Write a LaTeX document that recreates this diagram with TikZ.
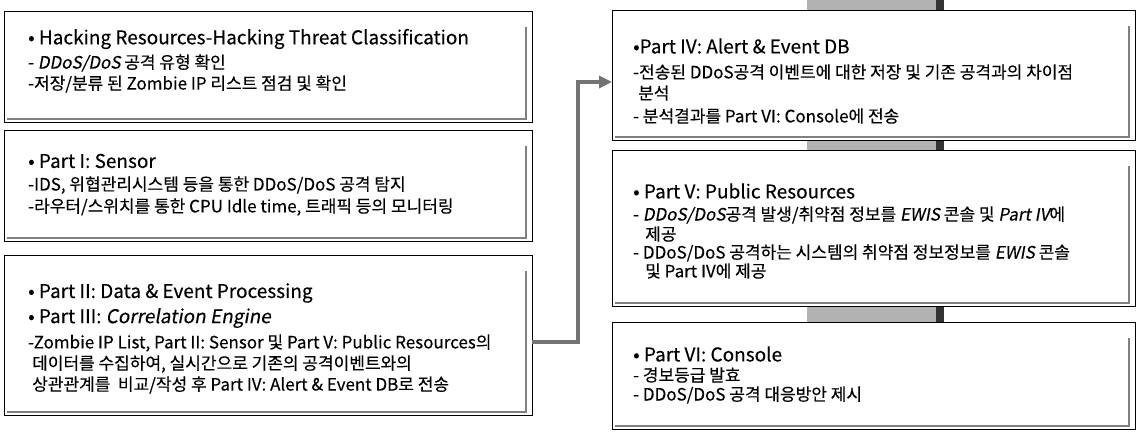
\documentclass[tikz,border=0pt]{standalone}
\usepackage{fontspec}
\setmainfont{Noto Sans CJK KR}[AutoFakeSlant=0.18,FakeBold=0.25]
\usetikzlibrary{arrows.meta}
\tikzset{
  panel/.style={draw=black, line width=0.9pt, fill=white, anchor=north west, outer sep=0pt, inner sep=0pt},
  shad/.style={draw=black!50, line width=1.6pt},
  tl/.style={anchor=west, inner sep=0pt, font=\fontsize{19}{21}\selectfont},
  bl/.style={anchor=west, inner sep=0pt, font=\fontsize{17}{19}\selectfont},
  bar/.style={fill=black!30, draw=none},
  barend/.style={fill=black!80, draw=none},
  conn/.style={draw=black!55, line width=4pt, -{Triangle[length=13pt,width=12pt]}},
}
\begin{document}
\begin{tikzpicture}[x=1pt,y=-1pt]
\useasboundingbox (0,0) rectangle (1144,436);
\fill[white] (0,0) rectangle (1144,436);

% gray flow bars between right panels
\fill[bar] (807,0) rectangle (944,11);
\fill[barend] (936,0) rectangle (944,11);
\fill[bar] (807,139) rectangle (944,151);
\fill[barend] (936,139) rectangle (944,151);
\fill[bar] (807,305) rectangle (944,323);
\fill[barend] (936,305) rectangle (944,323);

% panels
\node[panel, minimum width=528pt, minimum height=111pt] (b1) at (4,11) {};
\node[panel, minimum width=528pt, minimum height=111pt] (b2) at (4,130) {};
\node[panel, minimum width=528pt, minimum height=160pt] (b3) at (4,255) {};
\node[panel, minimum width=523pt, minimum height=130pt] (b4) at (612,10) {};
\node[panel, minimum width=523pt, minimum height=156pt] (b5) at (612,150) {};
\node[panel, minimum width=523pt, minimum height=107pt] (b6) at (612,322) {};

\foreach \b in {b1,b2,b3,b4,b5,b6}{
  \draw[shad] ([xshift=-6pt,yshift=-16pt]\b.north east) -- ([xshift=-6pt,yshift=3pt]\b.south east)
              -- ([xshift=3pt,yshift=3pt]\b.south west);
}

% connector
\coordinate (c1) at (578,342);
\coordinate (c2) at (578,82);
\draw[conn] (b3.east |- c1) -- (c1) -- (c2) -- (b4.west |- c2);

% box 1
\node[tl] (t1) at (28,39) {• Hacking Resources-Hacking Threat Classification};
\node[bl] (t1a) at (28,63) {- \textit{DDoS/DoS} 공격 유형 확인};
\node[bl] (t1b) at (28,84) {-저장/분류 된 Zombie IP 리스트 점검 및 확인};

% box 2
\node[tl] (t2) at (28,161) {• Part I: Sensor};
\node[bl] (t2a) at (28,185) {-IDS, 위협관리시스템 등을 통한 DDoS/DoS 공격 탐지};
\node[bl] (t2b) at (28,207) {-라우터/스위치를 통한 CPU Idle time, 트래픽 등의 모니터링};

% box 3
\node[tl] (t3) at (28,293) {• Part II: Data \& Event Processing};
\node[tl] (t3b) at (28,318) {• Part III: \textit{Correlation Engine}};
\node[bl] (t3c) at (28,343) {-Zombie IP List, Part II: Sensor 및 Part V: Public Resources의};
\node[bl] (t3d) at (32,364) {데이터를 수집하여, 실시간으로 기존의 공격이벤트와의};
\node[bl] (t3e) at (32,385) {상관관계를 \ 비교/작성 후 Part IV: Alert \& Event DB로 전송};

% box 4
\node[tl] (t4) at (633,46) {•Part IV: Alert \& Event DB};
\node[bl] (t4a) at (633,72) {-전송된 DDoS공격 이벤트에 대한 저장 및 기존 공격과의 차이점};
\node[bl] (t4b) at (638,93) {분석};
\node[bl] (t4c) at (633,116) {- 분석결과를 Part VI: Console에 전송};

% box 5
\node[tl] (t5) at (633,191) {• Part V: Public Resources};
\node[bl] (t5a) at (633,215) {- \textit{DDoS/DoS}공격 발생/취약점 정보를 \textit{EWIS} 콘솔 및 \textit{Part IV}에};
\node[bl] (t5b) at (645,234) {제공};
\node[bl] (t5c) at (633,253) {- DDoS/DoS 공격하는 시스템의 취약점 정보정보를 \textit{EWIS} 콘솔};
\node[bl] (t5d) at (645,271) {및 Part IV에 제공};

% box 6
\node[tl] (t6) at (633,354) {• Part VI: Console};
\node[bl] (t6a) at (633,375) {- 경보등급 발효};
\node[bl] (t6b) at (633,395) {- DDoS/DoS 공격 대응방안 제시};
\end{tikzpicture}
\end{document}
